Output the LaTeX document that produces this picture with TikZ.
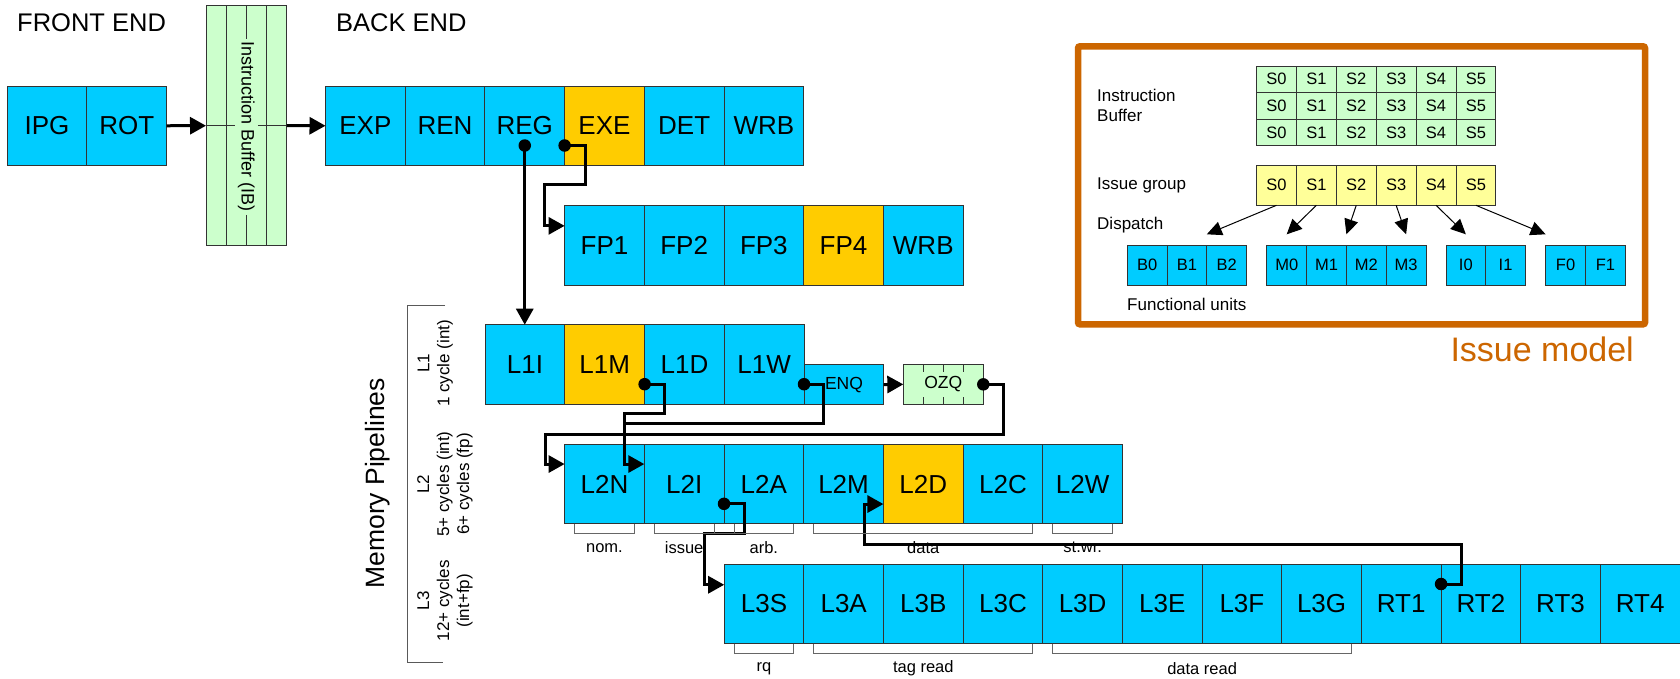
\documentclass[tikz,border=0pt]{standalone}
\usepackage{fontspec}
\setmainfont{Liberation Sans}
\usetikzlibrary{arrows.meta}
\definecolor{cb}{RGB}{0,204,255}
\definecolor{cy}{RGB}{255,204,0}
\definecolor{gr}{RGB}{204,255,204}
\definecolor{ly}{RGB}{255,255,153}
\definecolor{orng}{RGB}{204,102,0}
\definecolor{edge}{RGB}{51,51,51}
\begin{document}
\begin{tikzpicture}[x=1pt,y=-1pt,
  cell/.style={draw=edge,line width=0.9pt,minimum width=79.7pt,minimum height=79.5pt,inner sep=0pt,outer sep=0pt,anchor=north west,font=\fontsize{26}{30}\selectfont},
  smallcell/.style={draw=edge,line width=0.9pt,minimum width=39.9pt,inner sep=0pt,outer sep=0pt,anchor=north west,font=\fontsize{16.5}{19}\selectfont},
  conn/.style={line width=3pt,line join=miter},
  arr/.style={-{Triangle[length=16pt,width=17pt]}},
  blob/.style={circle,fill=black,inner sep=0pt,minimum size=12.5pt},
  lbl/.style={font=\fontsize{17}{20}\selectfont,inner sep=0pt},
  sml/.style={font=\fontsize{16.5}{20}\selectfont,inner sep=0pt},
  brk/.style={draw=black!60,line width=0.9pt}]
\fill[white] (0,0) rectangle (1680,678);
\useasboundingbox (0,0) rectangle (1680,678);

% headings
\node[anchor=base west,font=\fontsize{25.5}{30}\selectfont,inner sep=0pt] (fe) at (17,31.7) {FRONT END};
\node[anchor=base west,font=\fontsize{25.5}{30}\selectfont,inner sep=0pt] (be) at (336,31.7) {BACK END};

% front end
\node[cell,fill=cb] (IPG) at (7.1,86) {IPG};
\node[cell,fill=cb] (ROT) at (86.9,86) {ROT};

% instruction buffer
\node[draw=edge,fill=gr,line width=0.9pt,minimum width=80.7pt,minimum height=240pt,inner sep=0pt,outer sep=0pt,anchor=north west] (IB) at (206,5.7) {};
\draw[edge,line width=0.9pt] ([xshift=20pt]IB.north west) -- ([xshift=20pt]IB.south west);
\draw[edge,line width=0.9pt] ([xshift=-20pt]IB.north east) -- ([xshift=-20pt]IB.south east);
\node[rotate=-90,font=\fontsize{18}{20}\selectfont,inner sep=3pt] (IBt) at ([yshift=-1pt]IB.center) {Instruction Buffer (IB)};
\draw[edge,line width=0.9pt] (IB.north) -- (IBt.west);
\draw[edge,line width=0.9pt] (IBt.east) -- (IB.south);
\draw[edge,line width=0.9pt] (IB.west) -- (IBt.south |- IB.west);
\draw[edge,line width=0.9pt] (IBt.north |- IB.east) -- (IB.east);

% back end
\foreach \nm/\fc [count=\i from 0] in {EXP/cb,REN/cb,REG/cb,EXE/cy,DET/cb,WRB/cb}
  \node[cell,fill=\fc] (\nm) at (325.5+79.7*\i,86) {\nm};
\foreach \nm/\tx/\fc [count=\i from 0] in {FP1/FP1/cb,FP2/FP2/cb,FP3/FP3/cb,FP4/FP4/cy,FPW/WRB/cb}
  \node[cell,fill=\fc] (\nm) at (564.6+79.7*\i,205.7) {\tx};
\foreach \nm/\fc [count=\i from 0] in {L1I/cb,L1M/cy,L1D/cb,L1W/cb}
  \node[cell,fill=\fc] (\nm) at (485.2+79.7*\i,324.7) {\nm};
\foreach \nm/\fc [count=\i from 0] in {L2N/cb,L2I/cb,L2A/cb,L2M/cb,L2D/cy,L2C/cb,L2W/cb}
  \node[cell,fill=\fc] (\nm) at (564.6+79.7*\i,444.3) {\nm};
\foreach \nm [count=\i from 0] in {L3S,L3A,L3B,L3C,L3D,L3E,L3F,L3G,RT1,RT2,RT3,RT4}
  \node[cell,fill=cb,minimum width=79.65pt] (\nm) at (724.2+79.65*\i,564) {\nm};

\node[cell,fill=cb,minimum width=79.4pt,minimum height=39.5pt,font=\fontsize{17.5}{20}\selectfont] (ENQ) at (804.3,364.8) {ENQ};
\node[cell,fill=gr,minimum width=80pt,minimum height=39.7pt,font=\fontsize{17.5}{20}\selectfont] (OZQ) at (903.3,364.5) {OZQ};
\foreach \k in {20,40,60} {
  \draw[edge,line width=0.9pt] ([xshift=\k pt]OZQ.north west) -- ++(0,7.3);
  \draw[edge,line width=0.9pt] ([xshift=\k pt]OZQ.south west) -- ++(0,-7.3);
}

% arrows front
\draw[conn,arr] (ROT.east) -- (IB.west);
\draw[conn,arr] (IB.east) -- (EXP.west);
\draw[conn,arr] (ENQ.east) -- (OZQ.west);

% dots
\node[blob] (rd) at ([yshift=20pt]REG.south) {};
\node[blob] (ed) at ([yshift=20pt]EXE.south west) {};
\node[blob] (md) at ([yshift=20pt]L1M.south east) {};
\node[blob] (wd) at ([yshift=20pt]L1W.south east) {};
\node[blob] (od) at (OZQ.east) {};
\node[blob] (ad) at ([yshift=20pt]L2A.south west) {};
\node[blob] (td) at ([yshift=-20pt]RT2.north west) {};

% connectors
\draw[conn,arr] (rd.center) -- (rd.center |- L1I.north);
\draw[conn,arr] (ed.center) -- ++(20.4,0) -- ++(0,39.3) -- ++(-40.7,0) |- ([yshift=19.6pt]FP1.west);
\draw[conn,arr] (md.center) -- ++(19.7,0) -- ++(0,29.3) -- ++(-39.5,0) |- ([yshift=20pt]L2I.west);
\draw[conn] (wd.center) -- ++(19.3,0) -- ++(0,39.7) -- ++(-198.4,0);
\draw[conn,arr] (od.center) -- ++(20,0) -- ++(0,50.6) -- ++(-458.3,0) |- ([yshift=20pt]L2N.west);
\draw[conn,arr] (ad.center) -- ++(20.3,0) -- ++(0,29.3) -- ++(-40,0) |- ([yshift=19pt]L3S.west);
\draw[conn,arr] (td.center) -- ++(20.4,0) -- ++(0,-39.3) -- ++(-597.3,0) |- ([yshift=-20pt]L2D.west);

% brackets L2
\draw[brk] ([xshift=10pt]L2N.south west) -- ++(0,10) -| ([xshift=-10pt]L2N.south east);
\draw[brk] ([xshift=10pt]L2I.south west) -- ++(0,10) -| ([xshift=10pt]L2A.south west);
\draw[brk] ([xshift=-10pt]L2A.south west) -- ++(0,10) -| ([xshift=-10pt]L2A.south east);
\draw[brk] ([xshift=10pt]L2M.south west) -- ++(0,10) -| ([xshift=-10pt]L2C.south east);
\draw[brk] ([xshift=10pt]L2W.south west) -- ++(0,10) -| ([xshift=-10pt]L2W.south east);
\node[sml] (bnom) at ([yshift=-24pt]L2N.south) {nom.};
\node[sml] (biss) at ([yshift=-24pt]L2I.south) {issue};
\node[sml] (barb) at ([yshift=-24pt]L2A.south) {arb.};
\node[sml] (bdat) at ([yshift=-24pt]L2D.south) {data};
\node[sml] (bstw) at ([yshift=-23pt]L2W.south) {st.wr.};
% brackets L3
\draw[brk] ([xshift=10pt]L3S.south west) -- ++(0,10) -| ([xshift=-10pt]L3S.south east);
\draw[brk] ([xshift=10pt]L3A.south west) -- ++(0,10) -| ([xshift=-10pt]L3C.south east);
\draw[brk] ([xshift=10pt]L3D.south west) -- ++(0,10) -| ([xshift=-10pt]L3G.south east);
\node[sml] (brq) at ([yshift=-25pt]L3S.south) {rq};
\node[sml] (btag) at ([yshift=-25pt]L3B.south) {tag read};
\node[sml] (bdr) at ([yshift=-25pt]L3E.south east) {data read};

% memory pipelines
\draw[draw=black!65,line width=1pt] (445,305) -- (407.7,305) -- (407.7,662.7) -- (443.3,662.7);
\node[rotate=90,font=\fontsize{26.5}{30}\selectfont,inner sep=0pt] (mp) at (377.3,483.3) {Memory Pipelines};
\node[rotate=90,align=center,lbl] (l1t) at (435.3,363.3) {L1\\1 cycle (int)};
\node[rotate=90,align=center,lbl] (l2t) at (445,484) {L2\\5+ cycles (int)\\6+ cycles (fp)};
\node[rotate=90,align=center,lbl] (l3t) at (445,600.8) {L3\\12+ cycles\\(int+fp)};

% issue model
\node[draw=orng,line width=6.5pt,rounded corners=2pt,minimum width=567pt,minimum height=278pt,inner sep=0pt,outer sep=0pt,anchor=north west] (IMbox) at (1078,46.3) {};
\node[anchor=base east,text=orng,font=\fontsize{34}{40}\selectfont,inner sep=0pt] (IMt) at (1634,361.7) {Issue model};
\foreach \r in {0,1,2}
  \foreach \c in {0,...,5}
    \node[smallcell,fill=gr,minimum height=26.6pt] (ib\r\c) at (1256.5+39.9*\c,66+26.6*\r) {S\c};
\foreach \c in {0,...,5}
  \node[smallcell,fill=ly,minimum height=40pt] (ig\c) at (1256.5+39.9*\c,165.3) {S\c};
\foreach \nm [count=\i from 0] in {B0,B1,B2}
  \node[smallcell,fill=cb,minimum width=39.8pt,minimum height=39.7pt] (\nm) at (1127.2+39.8*\i,245.3) {\nm};
\foreach \nm [count=\i from 0] in {M0,M1,M2,M3}
  \node[smallcell,fill=cb,minimum width=39.8pt,minimum height=39.7pt] (\nm) at (1266.8+39.8*\i,245.3) {\nm};
\foreach \nm [count=\i from 0] in {I0,I1}
  \node[smallcell,fill=cb,minimum width=39.7pt,minimum height=39.7pt] (\nm) at (1446+39.7*\i,245.3) {\nm};
\foreach \nm [count=\i from 0] in {F0,F1}
  \node[smallcell,fill=cb,minimum width=39.9pt,minimum height=39.7pt] (\nm) at (1545.6+39.9*\i,245.3) {\nm};
\node[lbl,anchor=west,align=left] (ibl) at (1097,105.5) {Instruction\\Buffer};
\node[lbl,anchor=west] (igl) at (1097,185.7) {Issue group};
\node[lbl,anchor=west] (dpl) at (1097,225) {Dispatch};
\node[lbl,anchor=west] (ful) at (1127,304) {Functional units};
\begin{scope}[line width=1pt,-{Triangle[length=15pt,width=14pt]}]
\draw (ig0.south) -- ([yshift=11pt]B1.north east);
\draw (ig1.south) -- ([yshift=11pt]M0.north);
\draw (ig2.south) -- ([yshift=11pt]M1.north east);
\draw (ig3.south) -- ([yshift=11pt]M3.north);
\draw (ig4.south) -- ([yshift=11pt]I0.north);
\draw (ig5.south) -- ([yshift=11pt]F0.north west);
\end{scope}
\end{tikzpicture}
\end{document}
